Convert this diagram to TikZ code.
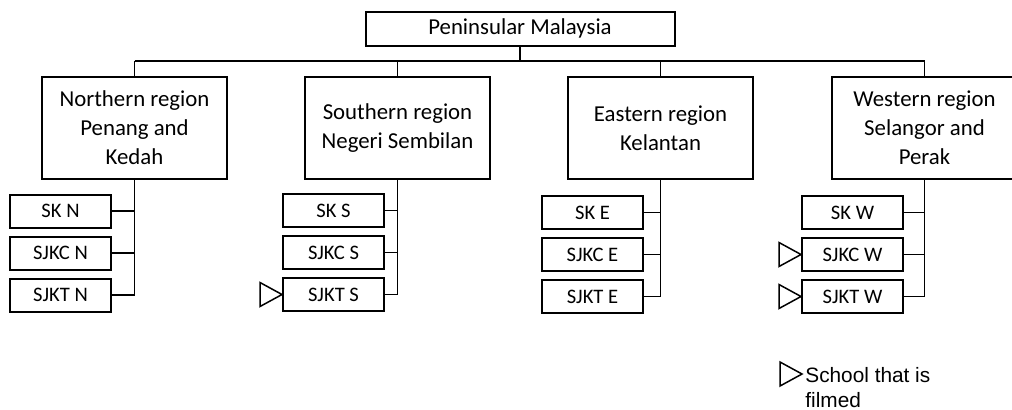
\documentclass[tikz,border=0pt]{standalone}
\usepackage{fontspec}
\setmainfont{Carlito}
\newfontfamily\legendfont{Liberation Sans}
\usetikzlibrary{positioning}

\begin{document}
\begin{tikzpicture}[
    x=0.5pt, y=-0.5pt,
    box/.style={draw,line width=1pt,align=center,inner sep=0pt},
    topbox/.style={box,minimum width=154.5pt,minimum height=17pt,
                   font=\fontsize{11.4}{14}\selectfont},
    regbox/.style={box,minimum width=92.5pt,minimum height=51pt,
                   font=\fontsize{11.4}{14.5}\selectfont},
    schbox/.style={box,minimum width=50.5pt,minimum height=16.5pt,
                   font=\fontsize{10.3}{12}\selectfont},
    link/.style={line width=0.75pt},
    filmed/.style={line width=0.75pt,line join=miter}
]
  \clip (0,0) rectangle (1012,409);

  % Country
  \node[topbox] (pm) at (520,28.7) {Peninsular Malaysia};
  \coordinate (bus) at (0,61);

  % Regions
  \node[regbox] (north) at (134.5,128) {Northern region\\Penang and\\Kedah};
  \node[regbox] (south) at (397.5,128) {Southern region\\Negeri Sembilan};
  \node[regbox] (east) at (660.5,128) {Eastern region\\Kelantan};
  \node[regbox] (west) at (924.5,128) {Western region\\Selangor and\\Perak};

  \draw[link] (pm.south) -- (pm.south |- bus);
  \draw[link] (north.north |- bus) -- (west.north |- bus);
  \foreach \r in {north,south,east,west}
    \draw[link] (\r.north) -- (\r.north |- bus);

  % Schools
  \foreach \r/\cx/\cy/\t in {north/60.5/211/N, south/333.5/210.5/S,
                              east/592.5/212.5/E, west/852.5/212.5/W}{
    \node[schbox] (sk\t) at (\cx,\cy) {SK \t};
    \node[schbox] (sjkc\t) at (\cx,\cy+42) {SJKC \t};
    \node[schbox] (sjkt\t) at (\cx,\cy+84) {SJKT \t};
    \draw[link] (\r.south) |- (sjkt\t.east);
    \draw[link] (sk\t.east) -- (sk\t.east -| \r.south);
    \draw[link] (sjkc\t.east) -- (sjkc\t.east -| \r.south);
  }

  % Filmed schools
  \foreach \n in {sjktS,sjkcW,sjktW}
    \draw[filmed] (\n.west) -- ++(-22,-12) -- ++(0,24) -- cycle;

  % Legend
  \coordinate (legtip) at (802,374);
  \draw[filmed] (legtip) -- ++(-22,-12) -- ++(0,24) -- cycle;
  \node[anchor=base west,inner sep=0pt,align=left,
        font=\legendfont\fontsize{10.4}{12.5}\selectfont]
        (legend) at (805,407) {School that is\\filmed};
\end{tikzpicture}
\end{document}
